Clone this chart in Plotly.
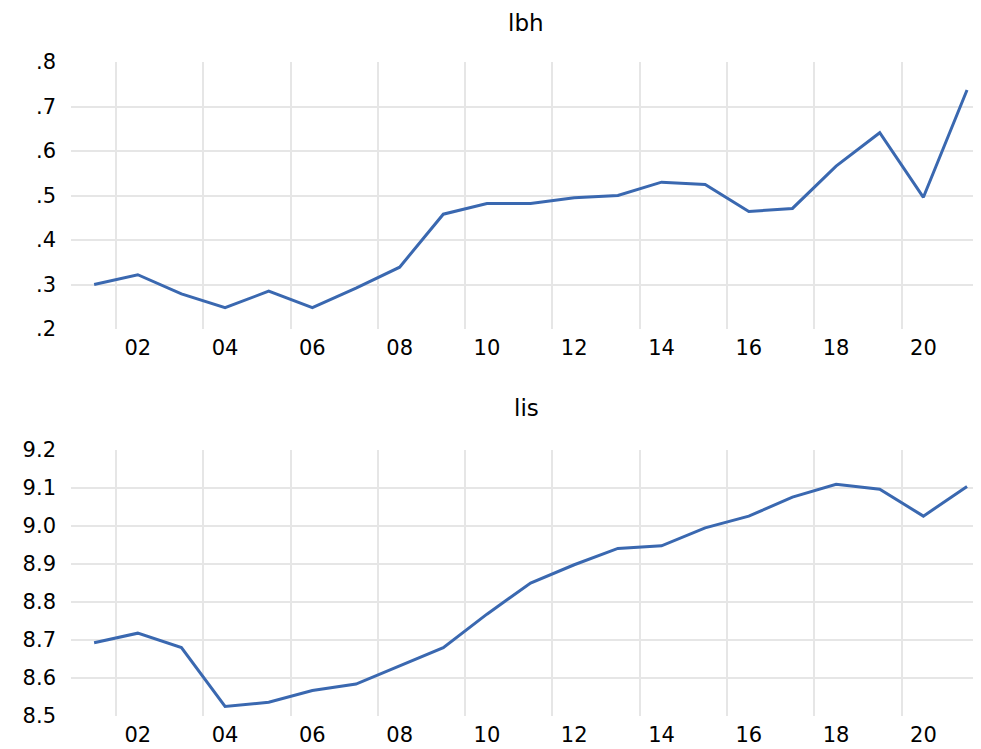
"""Two-panel annual series chart (lbh, lis)."""

import plotly.graph_objects as go
from plotly.subplots import make_subplots

years = list(range(2001, 2022))

lbh = [0.300, 0.322, 0.279, 0.248, 0.285, 0.248, 0.292, 0.339, 0.458, 0.482, 0.482,
       0.495, 0.500, 0.530, 0.525, 0.464, 0.471, 0.566, 0.641, 0.496, 0.737]

lis = [8.693, 8.718, 8.680, 8.525, 8.536, 8.567, 8.584, 8.631, 8.680, 8.768, 8.850,
       8.898, 8.941, 8.948, 8.995, 9.026, 9.076, 9.110, 9.097, 9.026, 9.104]

x_tickvals = [2002, 2004, 2006, 2008, 2010, 2012, 2014, 2016, 2018, 2020]
x_ticktext = ["02", "04", "06", "08", "10", "12", "14", "16", "18", "20"]

lbh_ticks = [0.2, 0.3, 0.4, 0.5, 0.6, 0.7, 0.8]
lbh_ticktext = [".2", ".3", ".4", ".5", ".6", ".7", ".8"]
lis_ticks = [8.5, 8.6, 8.7, 8.8, 8.9, 9.0, 9.1, 9.2]

LINE = "#3A68B0"
GRID = "#E6E6E6"
FONT = "DejaVu Sans"

# page body has an 8px margin, so the figure is sized to fit inside the window
W, H = 973, 741
M_L, M_T, M_B = 63, 54, 33

fig = make_subplots(rows=2, cols=1)
fig.add_trace(go.Scatter(x=years, y=lbh, mode="lines", line=dict(color=LINE, width=3)), row=1, col=1)
fig.add_trace(go.Scatter(x=years, y=lis, mode="lines", line=dict(color=LINE, width=3)), row=2, col=1)

# year boundaries carry the vertical grid, labels sit on the year itself
boundaries = [v - 0.5 for v in x_tickvals]

for r in (1, 2):
    fig.update_xaxes(
        row=r, col=1,
        range=[2000.47, 2021.32],
        tickmode="array", tickvals=x_tickvals, ticktext=x_ticktext,
        showgrid=False, zeroline=False, showline=False, ticks="",
        ticklabelstandoff=4,
        minor=dict(tickmode="array", tickvals=boundaries, showgrid=True, gridcolor=GRID, gridwidth=1.5, ticks=""),
        tickfont=dict(family=FONT, size=21, color="black"),
    )

fig.update_yaxes(row=1, col=1, range=[0.2, 0.8], tickmode="array", tickvals=lbh_ticks, ticktext=lbh_ticktext)
fig.update_yaxes(row=2, col=1, range=[8.5, 9.2], tickmode="array", tickvals=lis_ticks, tickformat=".1f")
fig.update_yaxes(
    showgrid=True, gridcolor=GRID, gridwidth=1.5, zeroline=False, showline=False, ticks="",
    ticklabelstandoff=14,
    tickfont=dict(family=FONT, size=21, color="black"),
)

plot_h = H - M_T - M_B
fig.update_layout(
    xaxis=dict(domain=[0, 1]),
    xaxis2=dict(domain=[0, 1]),
    yaxis=dict(domain=[0.5917, 1.0]),
    yaxis2=dict(domain=[0.0, 0.4067]),
    width=W, height=H,
    margin=dict(l=M_L, r=0, t=M_T, b=M_B),
    plot_bgcolor="white", paper_bgcolor="white",
    showlegend=False,
    annotations=[
        dict(text="lbh", x=0.5, xref="paper", y=1 + M_T / plot_h, yref="paper",
             yanchor="top", showarrow=False, font=dict(family=FONT, size=23, color="black")),
        dict(text="lis", x=0.5, xref="paper", y=1 - (400 - M_T) / plot_h, yref="paper",
             yanchor="middle", showarrow=False, font=dict(family=FONT, size=23, color="black")),
    ],
)

fig.write_html("out.html")
